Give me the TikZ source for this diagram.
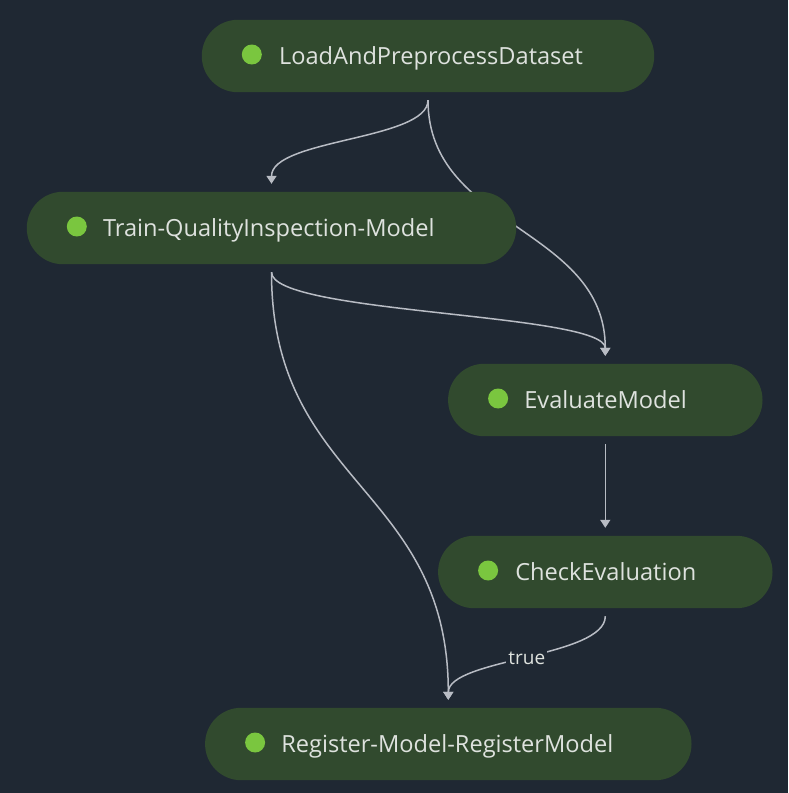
\documentclass[tikz,border=0pt]{standalone}
\usepackage{fontspec}
\setmainfont{Open Sans}
\usetikzlibrary{calc,arrows.meta}
\definecolor{bgc}{RGB}{31,40,51}
\definecolor{boxc}{RGB}{49,74,46}
\definecolor{dotc}{RGB}{122,198,63}
\definecolor{txtc}{RGB}{222,226,222}
\definecolor{edgec}{RGB}{184,188,196}
\tikzset{
  stepbox/.style={draw=none, rectangle, rounded corners=36pt, minimum height=72pt, inner sep=0pt},
  statusdot/.style={circle, fill=dotc, minimum size=20pt, inner sep=0pt},
  steptext/.style={anchor=base west, inner sep=0pt, text=txtc, font=\fontsize{23.6}{26}\selectfont},
  edge/.style={draw=edgec, line width=1.5pt, -{Triangle[width=10pt,length=8pt]}},
  edgelabel/.style={fill=bgc, text=txtc, inner sep=2pt, font=\fontsize{19}{22}\selectfont}
}
\begin{document}
\begin{tikzpicture}[x=1pt,y=-1pt]
\fill[bgc] (0,0) rectangle (788,793);
\useasboundingbox (0,0) rectangle (788,793);

% box outlines (named nodes)
\node[stepbox, minimum width=452pt] (load) at (428,56) {};
\node[stepbox, minimum width=489pt] (train) at (271.5,228) {};
\node[stepbox, minimum width=314pt] (eval) at (605.3,400) {};
\node[stepbox, minimum width=334pt] (check) at (605.3,572) {};
\node[stepbox, minimum width=486pt] (reg) at (448.3,744) {};

% edges (drawn first so boxes cover them)
\draw[edge] ($(load.south)+(0,8)$) .. controls +(0,40) and +(0,-45) .. ($(train.north)+(0,-8)$);
\draw[edge] ($(load.south)+(0,8)$) .. controls +(0,128) and +(0,-129) .. ($(eval.north)+(0,-8)$);
\draw[edge] ($(train.south)+(0,8)$) .. controls +(0,42) and +(0,-43) .. ($(eval.north)+(0,-8)$);
\draw[edge] ($(train.south)+(0,8)$) .. controls +(0,213) and +(0,-213) .. ($(reg.north)+(0,-8)$);
\draw[edge] ($(eval.south)+(0,8)$) -- ($(check.north)+(0,-8)$);
\draw[edge] ($(check.south)+(0,8)$) .. controls +(0,41) and +(0,-41) .. node[edgelabel] (truelbl) {true} ($(reg.north)+(0,-8)$);

% boxes on top
\foreach \b in {load,train,eval,check,reg}
  \fill[boxc, rounded corners=36pt] (\b.south west) rectangle (\b.north east);

\node[statusdot] (loaddot) at ($(load.west)+(50,-1.5)$) {};
\node[steptext] (loadtxt) at ($(load.west)+(77,8)$) {LoadAndPreprocessDataset};
\node[statusdot] (traindot) at ($(train.west)+(50,-1.5)$) {};
\node[steptext] (traintxt) at ($(train.west)+(76,8)$) {Train-QualityInspection-Model};
\node[statusdot] (evaldot) at ($(eval.west)+(50,-1.5)$) {};
\node[steptext] (evaltxt) at ($(eval.west)+(76,8)$) {EvaluateModel};
\node[statusdot] (checkdot) at ($(check.west)+(50,-1.5)$) {};
\node[steptext] (checktxt) at ($(check.west)+(77,8)$) {CheckEvaluation};
\node[statusdot] (regdot) at ($(reg.west)+(50,-1.5)$) {};
\node[steptext] (regtxt) at ($(reg.west)+(76,8)$) {Register-Model-RegisterModel};
\end{tikzpicture}
\end{document}
